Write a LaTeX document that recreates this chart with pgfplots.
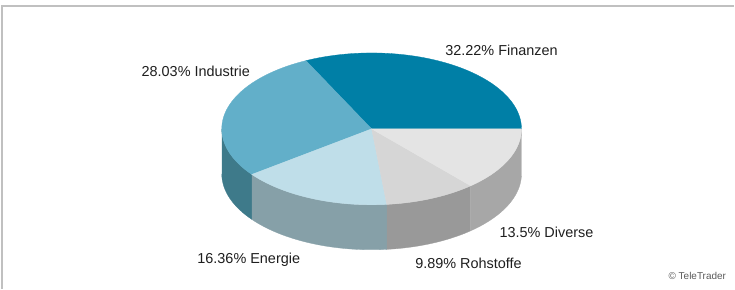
\documentclass[border=0pt]{standalone}
\usepackage{pgfplots}
\pgfplotsset{compat=1.18}
\usepackage{fontspec}
\setmainfont{Liberation Sans}
% shares in percent
\def\pFin{32.22}
\def\pInd{28.03}
\def\pEne{16.36}
\def\pRoh{9.89}
\def\pDiv{13.5}
\pgfmathsetmacro\aA{0}
\pgfmathsetmacro\aB{\aA+3.6*\pFin}
\pgfmathsetmacro\aC{\aB+3.6*\pInd}
\pgfmathsetmacro\aD{\aC+3.6*\pEne}
\pgfmathsetmacro\aE{\aD+3.6*\pRoh}
\pgfmathsetmacro\aF{\aE+3.6*\pDiv}
\def\cx{372}\def\cy{129}\def\rx{150}\def\ry{76}\def\dz{45}
\definecolor{finT}{RGB}{0,127,166}
\definecolor{indT}{RGB}{98,175,201}
\definecolor{eneT}{RGB}{191,222,233}
\definecolor{rohT}{RGB}{214,214,214}
\definecolor{divT}{RGB}{228,228,228}
\definecolor{indS}{RGB}{62,122,138}
\definecolor{eneS}{RGB}{134,160,168}
\definecolor{rohS}{RGB}{153,153,153}
\definecolor{divS}{RGB}{167,167,167}
\definecolor{txt}{RGB}{30,30,30}
% side wall between angles #1 and #2
\newcommand\sidewall[3]{%
\addplot[fill=#3, draw=#3, line width=0.3pt, variable=\t, domain=0:3, samples=241]
 ({\cx+\rx*cos(ifthenelse(\t<=1, #1+(#2-#1)*\t, ifthenelse(\t<=2, #2, #2-(#2-#1)*(\t-2))))},
  {\cy-\ry*sin(ifthenelse(\t<=1, #1+(#2-#1)*\t, ifthenelse(\t<=2, #2, #2-(#2-#1)*(\t-2))))
   +ifthenelse(\t<=1, 0, ifthenelse(\t<=2, \dz*(\t-1), \dz))});}
% top slice between angles #1 and #2
\newcommand\topslice[3]{%
\addplot[fill=#3, draw=#3, line width=0.3pt, variable=\t, domain=0:3, samples=241]
 ({\cx+\rx*ifthenelse(\t<=1, \t, ifthenelse(\t<=2, 1, 3-\t))*cos(ifthenelse(\t<=1, #1, ifthenelse(\t<=2, #1+(#2-#1)*(\t-1), #2)))},
  {\cy-\ry*ifthenelse(\t<=1, \t, ifthenelse(\t<=2, 1, 3-\t))*sin(ifthenelse(\t<=1, #1, ifthenelse(\t<=2, #1+(#2-#1)*(\t-1), #2)))});}
\begin{document}
\begin{tikzpicture}
\begin{axis}[
  width=735bp, height=289bp, scale only axis,
  xmin=0, xmax=735, ymin=0, ymax=289, y dir=reverse,
  axis lines=none, clip=false,
]
\path (axis cs:0,0) rectangle (axis cs:735,289);
\draw[color={rgb,255:red,192;green,192;blue,192}, line width=1.5bp] (axis cs:2,289) -- (axis cs:2,6) -- (axis cs:735,6);
% side walls (front half only)
\sidewall{180}{\aC}{indS}
\sidewall{\aC}{\aD}{eneS}
\sidewall{\aD}{\aE}{rohS}
\sidewall{\aE}{\aF}{divS}
% top faces
\topslice{\aA}{\aB}{finT}
\topslice{\aB}{\aC}{indT}
\topslice{\aC}{\aD}{eneT}
\topslice{\aD}{\aE}{rohT}
\topslice{\aE}{\aF}{divT}
% labels
\begin{scope}[every node/.style={text=txt, font=\fontsize{14.5}{17}\selectfont, inner sep=0pt}]
\node at (axis cs:502,50) {32.22\% Finanzen};
\node at (axis cs:196,71) {28.03\% Industrie};
\node at (axis cs:547,233) {13.5\% Diverse};
\node at (axis cs:469,264) {9.89\% Rohstoffe};
\node at (axis cs:249,260) {16.36\% Energie};
\end{scope}
\node[text={rgb,255:red,90;green,90;blue,90}, font=\fontsize{10}{12}\selectfont, inner sep=0pt] at (axis cs:698,276) {© TeleTrader};
\end{axis}
\end{tikzpicture}
\end{document}
